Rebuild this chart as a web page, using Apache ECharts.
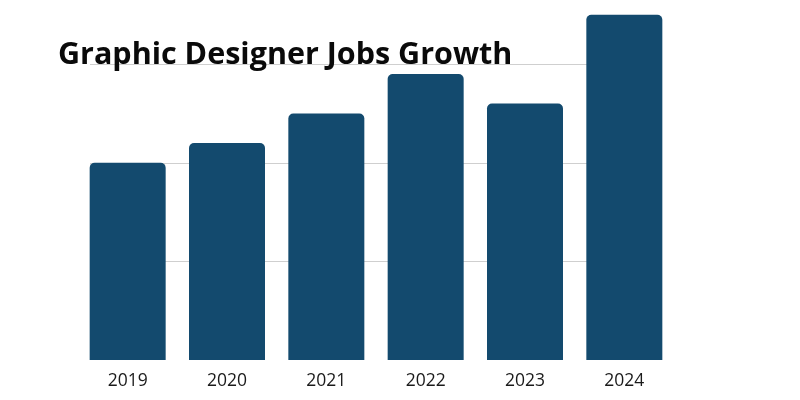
<!DOCTYPE html>
<html>
<head>
<meta charset="utf-8">
<script src="https://cdn.jsdelivr.net/npm/echarts@6/dist/echarts.min.js"></script>
<style>html,body{margin:0;padding:0;background:#fff;}#c{width:800px;height:400px;}</style>
</head>
<body>
<div id="c"></div>
<script>
const titleText = 'Graphic Designer Jobs Growth';
const years = ['2019', '2020', '2021', '2022', '2023', '2024'];
const jobs = [2.0, 2.2, 2.5, 2.9, 2.6, 3.5];
const yMin = 0, yMax = 3.6, yInterval = 1;

const chart = echarts.init(document.getElementById('c'), null, {renderer: 'canvas'});
chart.setOption({
  animation: false,
  backgroundColor: '#ffffff',
  title: {
    text: titleText,
    left: 53,
    top: 35,
    textStyle: {fontFamily: 'Open Sans', fontWeight: 'bold', fontSize: 30.5, color: '#0a0a0a'}
  },
  grid: [
    {left: 78, right: 126, top: 5, bottom: 40},
    {left: 90, right: 138, top: 5, bottom: 40}
  ],
  xAxis: [
    {
      type: 'category', gridIndex: 0, data: years,
      axisLine: {show: false}, axisTick: {show: false},
      axisLabel: {fontFamily: 'Open Sans', fontSize: 17.5, color: '#1a1a1a', margin: 12}
    },
    {type: 'value', gridIndex: 1, min: 0, max: 1, show: false}
  ],
  yAxis: [
    {type: 'value', gridIndex: 0, min: yMin, max: yMax, interval: yInterval, show: false, splitLine: {show: false}},
    {
      type: 'value', gridIndex: 1, min: yMin, max: yMax, interval: yInterval,
      axisLine: {show: false}, axisTick: {show: false}, axisLabel: {show: false},
      splitLine: {show: true, showMinLine: false, showMaxLine: false, lineStyle: {color: '#cfcfcf', width: 1}}
    }
  ],
  series: [{
    type: 'bar',
    xAxisIndex: 0, yAxisIndex: 0,
    data: jobs,
    barWidth: 76,
    itemStyle: {color: '#134a6e', borderRadius: [5, 5, 0, 0]},
    z: 3
  }]
});
</script>
</body>
</html>
